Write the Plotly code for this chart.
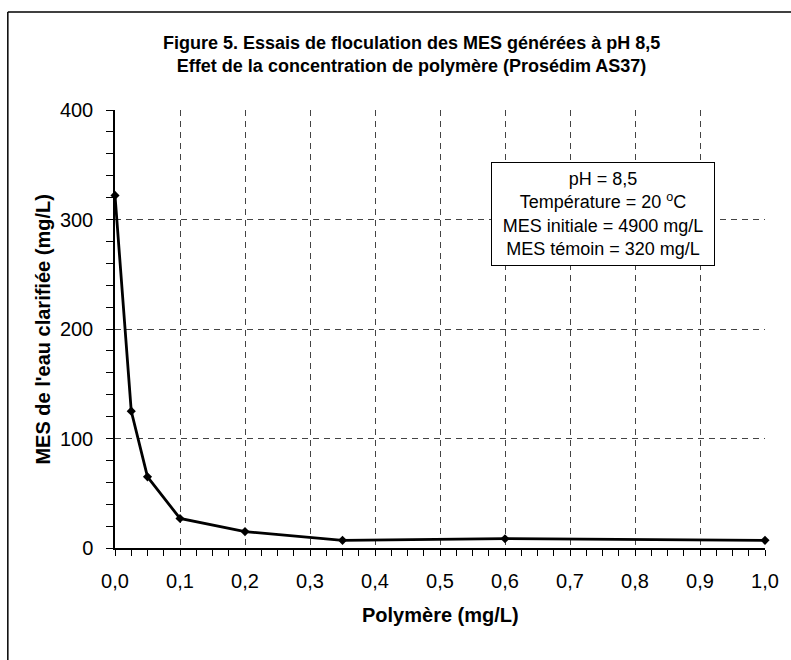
import plotly.graph_objects as go

polymere = [0.0, 0.025, 0.05, 0.1, 0.2, 0.35, 0.6, 1.0]
mes = [322, 125, 65, 27, 15, 7, 8.5, 7]

title_lines = ["Figure 5. Essais de floculation des MES générées à pH 8,5",
               "Effet de la concentration de polymère (Prosédim AS37)"]
x_title = "Polymère (mg/L)"
y_title = "MES de l'eau clarifiée (mg/L)"
box_lines = ["pH = 8,5", "Température = 20 <sup>o</sup>C",
             "MES initiale = 4900 mg/L", "MES témoin = 320 mg/L"]

FONT = "Liberation Sans, Arial, sans-serif"
W, H = 791, 660
L, R, T, B = 115, 21, 110, 112
pw, ph = W - L - R, H - T - B

def px(xr):
    return (xr - L) / pw

def py(yr):
    return (H - B - yr) / ph

fig = go.Figure()
fig.add_trace(go.Scatter(
    x=polymere, y=mes, mode="lines+markers",
    line=dict(color="black", width=2.8),
    marker=dict(symbol="diamond", size=7, color="black"),
    cliponaxis=False, showlegend=False))

axis_common = dict(
    showline=True, linecolor="black", linewidth=1.5,
    ticks="outside", tickwidth=1, tickcolor="black",
    showgrid=True, gridcolor="#444444", griddash="6px,5px", gridwidth=1,
    zeroline=False, tickfont=dict(family=FONT, size=20, color="black"),
)

fig.update_xaxes(range=[0, 1], dtick=0.1, tickformat=".1f", ticklen=6,
                 ticklabelstandoff=8,
                 minor=dict(dtick=0.025, ticks="outside", ticklen=6,
                            tickcolor="black", showgrid=False),
                 **axis_common)
fig.update_yaxes(range=[0, 400], dtick=100, ticklen=7,
                 ticklabelstandoff=9,
                 minor=dict(dtick=20, ticks="outside", ticklen=7,
                            tickcolor="black", showgrid=False),
                 **axis_common)

annotations = [
    dict(text="<br>".join(title_lines), xref="paper", yref="paper",
         x=px(414), y=py(54), xanchor="center", yanchor="middle",
         showarrow=False, font=dict(family=FONT, size=18, color="black")),
    dict(text=x_title, xref="paper", yref="paper",
         x=0.5, y=py(615), xanchor="center", yanchor="middle",
         showarrow=False, font=dict(family=FONT, size=20, color="black")),
    dict(text=y_title, xref="paper", yref="paper", textangle=-90,
         x=px(42), y=py(330), xanchor="center", yanchor="middle",
         showarrow=False, font=dict(family=FONT, size=20, color="black")),
    dict(text="<br>".join(box_lines), xref="paper", yref="paper",
         x=px(607), y=py(214), xanchor="center", yanchor="middle",
         showarrow=False, align="center", width=210,
         bgcolor="white", bordercolor="black", borderwidth=1, borderpad=6,
         font=dict(family=FONT, size=18, color="black")),
]
for a in annotations[:3]:
    a["text"] = "<b>" + a["text"].replace("<br>", "</b><br><b>") + "</b>"

shapes = [
    dict(type="line", xref="paper", yref="paper", x0=px(7), x1=px(900),
         y0=py(12), y1=py(12), line=dict(color="black", width=1.5)),
    dict(type="line", xref="paper", yref="paper", x0=px(7), x1=px(7),
         y0=py(12), y1=py(800), line=dict(color="black", width=1.5)),
]

fig.update_layout(
    width=W, height=H, margin=dict(l=L, r=R, t=T, b=B),
    paper_bgcolor="white", plot_bgcolor="white",
    separators=", ",
    font=dict(family=FONT, size=18, color="black"),
    annotations=annotations, shapes=shapes,
)

fig.write_html("out.html")
